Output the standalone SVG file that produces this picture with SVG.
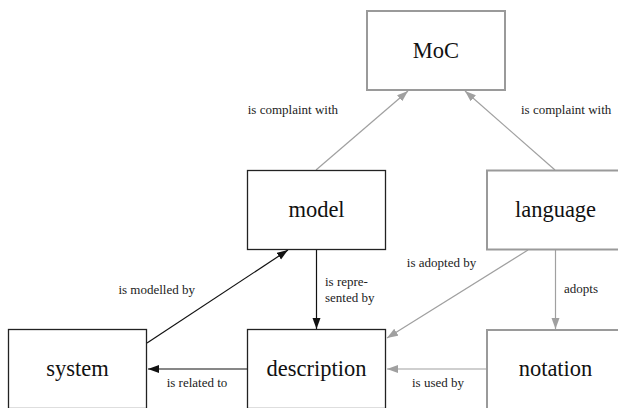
<svg xmlns="http://www.w3.org/2000/svg" width="618" height="408" viewBox="0 0 618 408">
  <style>
    .box-dark { fill: #ffffff; stroke: #222222; stroke-width: 1.3; }
    .box-gray { fill: #ffffff; stroke: #9a9a9a; stroke-width: 2; }
    .node-text { font-family: "Liberation Serif", "DejaVu Serif", serif; font-size: 22.5px; fill: #111111; text-anchor: middle; }
    .label { font-family: "Liberation Serif", "DejaVu Serif", serif; font-size: 13px; fill: #222222; }
    .edge-dark { stroke: #111111; stroke-width: 1.2; fill: none; }
    .edge-gray { stroke: #a0a0a0; stroke-width: 1.2; fill: none; }
  </style>
  <defs>
    <marker id="arrow-dark" markerUnits="userSpaceOnUse" markerWidth="12" markerHeight="10" refX="11" refY="4" orient="auto">
      <path d="M0,0 L11,4 L0,8 Z" fill="#111111"/>
    </marker>
    <marker id="arrow-gray" markerUnits="userSpaceOnUse" markerWidth="12" markerHeight="10" refX="11" refY="4" orient="auto">
      <path d="M0,0 L11,4 L0,8 Z" fill="#a0a0a0"/>
    </marker>
  </defs>

  <rect width="618" height="408" fill="#ffffff"/>

  <!-- connectors and their labels -->
  <g id="edges">
    <line class="edge-gray" x1="316" y1="170" x2="408" y2="91" marker-end="url(#arrow-gray)"/>
    <line class="edge-gray" x1="555" y1="170" x2="465" y2="91" marker-end="url(#arrow-gray)"/>
    <line class="edge-dark" x1="147" y1="343" x2="288" y2="250" marker-end="url(#arrow-dark)"/>
    <line class="edge-dark" x1="316.5" y1="250" x2="316.5" y2="329" marker-end="url(#arrow-dark)"/>
    <line class="edge-gray" x1="528" y1="250" x2="387" y2="338" marker-end="url(#arrow-gray)"/>
    <line class="edge-gray" x1="555.5" y1="250" x2="555.5" y2="329" marker-end="url(#arrow-gray)"/>
    <line class="edge-dark" x1="247" y1="369" x2="148" y2="369" marker-end="url(#arrow-dark)"/>
    <line class="edge-gray" x1="486" y1="369" x2="387" y2="369" marker-end="url(#arrow-gray)"/>

    <text class="label" x="338" y="114" text-anchor="end">is complaint with</text>
    <text class="label" x="521" y="114">is complaint with</text>
    <text class="label" x="441.5" y="267" text-anchor="middle">is adopted by</text>
    <text class="label" x="564" y="293">adopts</text>
    <text class="label" x="195" y="294" text-anchor="end">is modelled by</text>
    <text class="label" x="325" y="286">is repre-</text>
    <text class="label" x="325" y="302">sented by</text>
    <text class="label" x="197" y="387" text-anchor="middle">is related to</text>
    <text class="label" x="438" y="387" text-anchor="middle">is used by</text>
  </g>

  <!-- nodes -->
  <g id="moc">
    <rect class="box-gray" x="367" y="11" width="138" height="79"/>
    <text class="node-text" x="436" y="58">MoC</text>
  </g>
  <g id="model">
    <rect class="box-dark" x="247.5" y="170.5" width="138" height="79"/>
    <text class="node-text" x="316.5" y="217">model</text>
  </g>
  <g id="language">
    <rect class="box-gray" x="487" y="170.5" width="138" height="79"/>
    <text class="node-text" x="555.5" y="217">language</text>
  </g>
  <g id="system">
    <rect class="box-dark" x="8.5" y="329.5" width="138" height="79"/>
    <text class="node-text" x="77.5" y="376">system</text>
  </g>
  <g id="description">
    <rect class="box-dark" x="247.5" y="329.5" width="138" height="79"/>
    <text class="node-text" x="316.5" y="376">description</text>
  </g>
  <g id="notation">
    <rect class="box-gray" x="487" y="330" width="138" height="79"/>
    <text class="node-text" x="555.5" y="376">notation</text>
  </g>
</svg>
